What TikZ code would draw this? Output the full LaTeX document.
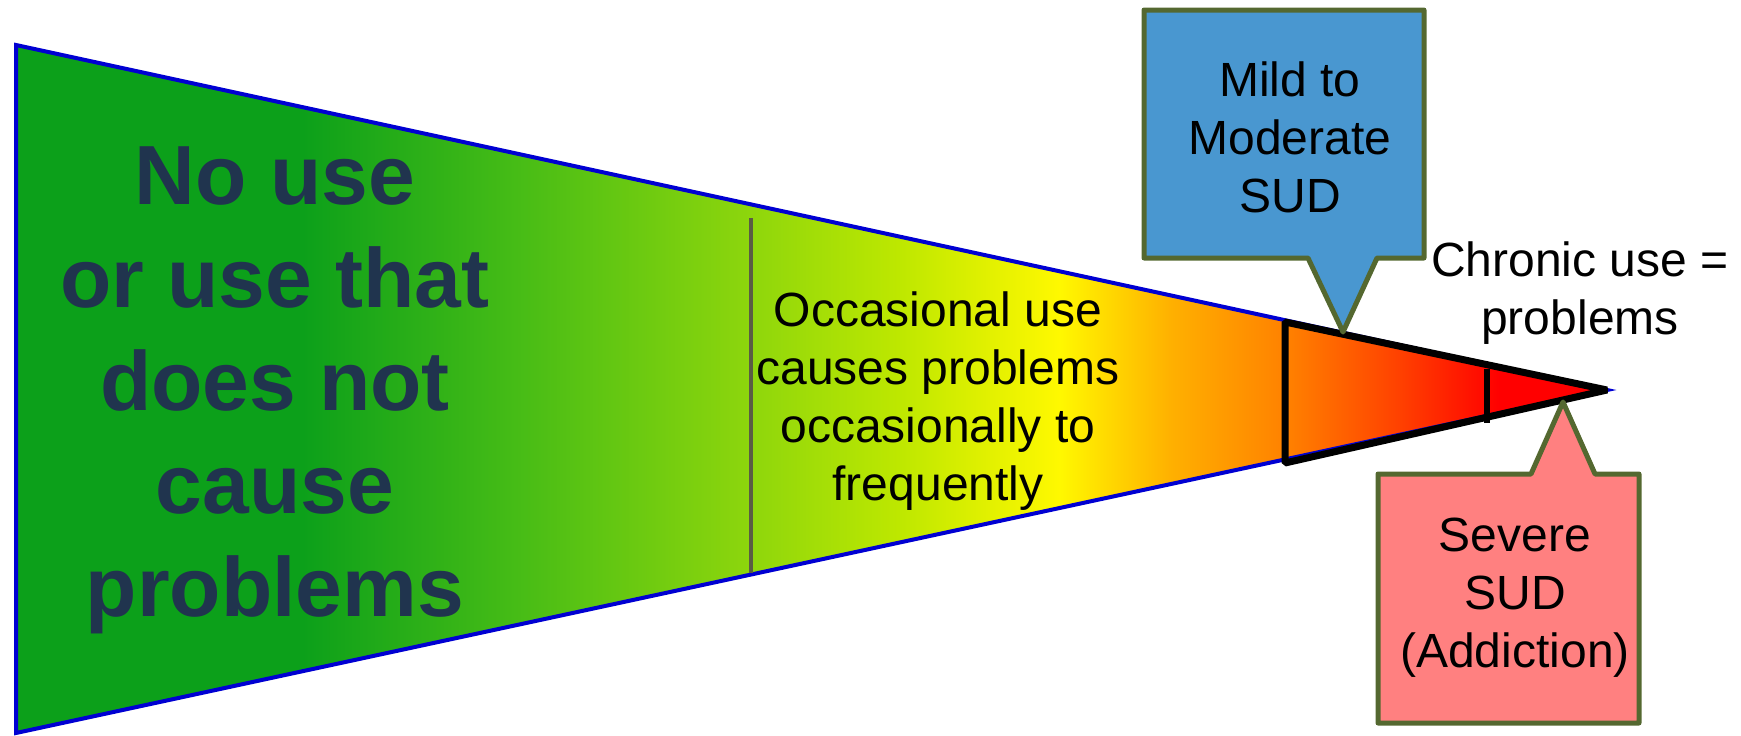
\documentclass[tikz,border=0pt]{standalone}
\usepackage{fontspec}
\setmainfont{Liberation Sans}
\usepackage{tikz}
\usetikzlibrary{shapes,arrows,positioning,calc}
\definecolor{nousegreen}{RGB}{12,160,26}
\definecolor{midgreen}{RGB}{70,188,22}
\definecolor{limegreen}{RGB}{142,214,12}
\definecolor{yellowgreen}{RGB}{190,232,0}
\definecolor{useyellow}{RGB}{255,248,0}
\definecolor{amber}{RGB}{255,176,0}
\definecolor{useorange}{RGB}{255,128,0}
\definecolor{redorange}{RGB}{255,64,0}
\definecolor{usered}{RGB}{255,0,0}
\definecolor{edgeblue}{RGB}{0,0,210}
\definecolor{dividergray}{RGB}{90,92,68}
\definecolor{navytext}{RGB}{32,52,78}
\definecolor{mildblue}{RGB}{73,151,208}
\definecolor{severepink}{RGB}{255,128,128}
\definecolor{calloutolive}{RGB}{84,104,48}
\pgfdeclarehorizontalshading{sudramp}{100bp}{color(0bp)=(nousegreen); color(34bp)=(nousegreen); color(40.7bp)=(midgreen); color(48.1bp)=(limegreen); color(52.8bp)=(yellowgreen); color(57.8bp)=(useyellow); color(61.3bp)=(amber); color(65bp)=(useorange); color(68.5bp)=(redorange); color(71.6bp)=(usered); color(100bp)=(usered)}
\tikzset{
    bodytext/.style={font=\fontsize{48}{58}\selectfont, align=center, inner sep=0pt},
    boldtext/.style={font=\fontsize{84}{103}\selectfont\bfseries, text=navytext, align=center, inner sep=0pt},
    calloutshape/.style={draw=calloutolive, line width=5pt, line join=round},
    wedgeline/.style={line width=7pt, line join=bevel}
}

\begin{document}
\begin{tikzpicture}[x=1pt, y=-1pt]
    \useasboundingbox (0,0) rectangle (1741,736);
    % Use spectrum
    \coordinate (top) at (16,45);
    \coordinate (bottom) at (16,733);
    \coordinate (tip) at (1607,390);
    \shade[shading=sudramp] (top) -- (tip) -- (bottom) -- cycle;
    \draw[edgeblue, line width=4pt] (top) -- (tip) -- (bottom) -- cycle;
    \draw[dividergray, line width=4.5pt] (751,218) -- (751,573);
    % SUD wedge
    \draw[wedgeline] (1285,322) -- (tip) -- (1285,463) -- cycle;
    \draw[line width=6pt] (1487,369) -- (1487,423);
    % Labels
    \node[boldtext] (nouse) at (275,390) {No use\\or use that\\does not\\cause\\problems};
    \node[bodytext] (occasional) at (938,401) {Occasional use\\causes problems\\occasionally to\\frequently};
    \node[bodytext] (chronic) at (1580,293) {Chronic use =\\problems};
    % Callouts
    \coordinate (mildtip) at (1343,332);
    \filldraw[calloutshape, fill=mildblue] (1144,10) -| (1424,258) -- (1377,258) -- (mildtip) -- (1308,258) -- (1144,258) -- cycle;
    \node[bodytext] (mild) at (1290,137) {Mild to\\Moderate\\SUD};
    \coordinate (severetip) at (1563,402);
    \filldraw[calloutshape, fill=severepink] (1378,474) -- (1531,474) -- (severetip) -- (1595,474) -| (1639,723) -| cycle;
    \node[bodytext] (severe) at (1515,598) {Severe\\SUD\\(Addiction)};
\end{tikzpicture}
\end{document}
